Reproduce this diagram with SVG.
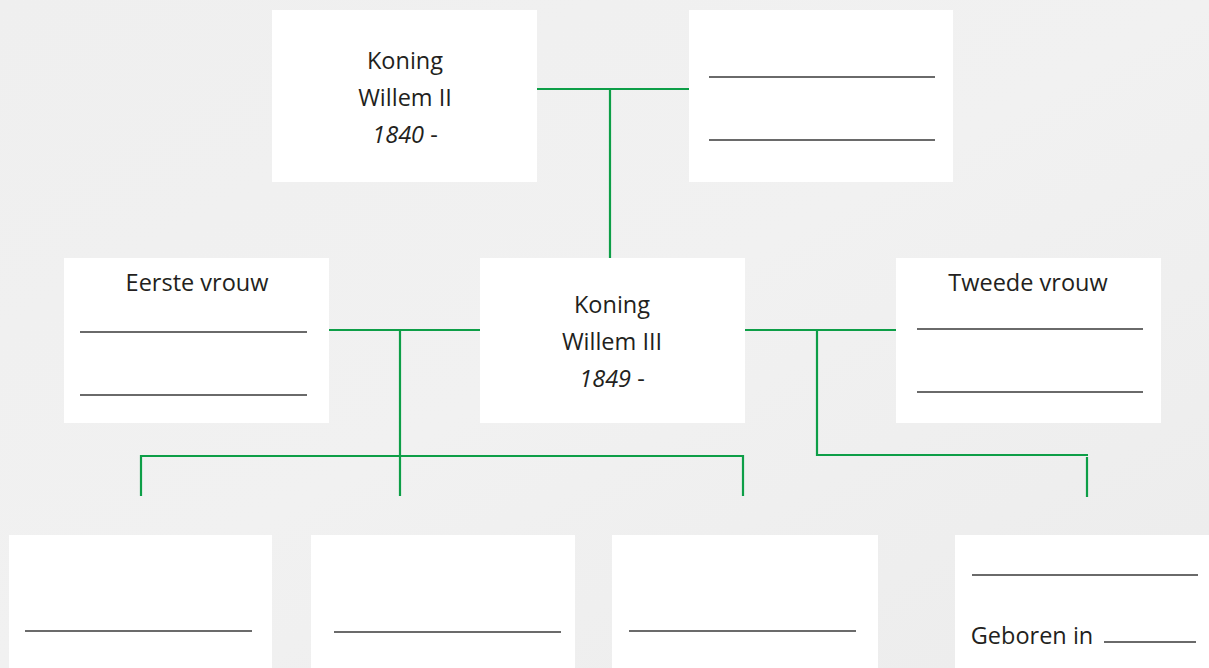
<svg xmlns="http://www.w3.org/2000/svg" width="1209" height="668" viewBox="0 0 1209 668">
<defs>
<style>
.box{fill:#ffffff}
.t{font-family:"Open Sans","Noto Sans","Liberation Sans",sans-serif;font-size:23.5px;fill:#231f20;text-anchor:middle}
.i{font-style:italic}
.ln{stroke:#3a3a3a;stroke-width:1.3;fill:none}
.g{stroke:#0d9e47;stroke-width:2.2;fill:none}
</style>
<linearGradient id="bg" x1="0" y1="0" x2="1" y2="1">
<stop offset="0" stop-color="#efefef"/>
<stop offset="0.5" stop-color="#f1f1f1"/>
<stop offset="1" stop-color="#ececec"/>
</linearGradient>
</defs>
<rect width="1209" height="668" fill="url(#bg)"/>

<g id="connectors">
<path class="g" d="M537 89H689M610 89V258"/>
<path class="g" d="M329 330H480M400 330V496M141 496V456H743V496"/>
<path class="g" d="M745 330H896M817 330V455H1088M1087 457V497"/>
</g>

<g id="willem2">
<rect class="box" x="272" y="10" width="265" height="172"/>
<text class="t" x="405" y="69">Koning</text>
<text class="t" x="405" y="106">Willem II</text>
<text class="t" x="405" y="143"><tspan class="i">1840</tspan> -</text>
</g>

<g id="partner2">
<rect class="box" x="689" y="10" width="264" height="172"/>
<path class="ln" d="M709 77H935M709 140H935"/>
</g>

<g id="eerste">
<rect class="box" x="64" y="258" width="265" height="165"/>
<text class="t" x="197" y="291">Eerste vrouw</text>
<path class="ln" d="M80 332H307M80 395H307"/>
</g>

<g id="willem3">
<rect class="box" x="480" y="258" width="265" height="165"/>
<text class="t" x="612" y="313">Koning</text>
<text class="t" x="612" y="350">Willem III</text>
<text class="t" x="612" y="387"><tspan class="i">1849</tspan> -</text>
</g>

<g id="tweede">
<rect class="box" x="896" y="258" width="265" height="165"/>
<text class="t" x="1028" y="291">Tweede vrouw</text>
<path class="ln" d="M917 329H1143M917 392H1143"/>
</g>

<g id="kind1">
<rect class="box" x="9" y="535" width="263" height="140"/>
<path class="ln" d="M25 631H252"/>
</g>

<g id="kind2">
<rect class="box" x="311" y="535" width="264" height="140"/>
<path class="ln" d="M334 632H561"/>
</g>

<g id="kind3">
<rect class="box" x="612" y="535" width="266" height="140"/>
<path class="ln" d="M629 631H856"/>
</g>

<g id="kind4">
<rect class="box" x="955" y="535" width="260" height="140"/>
<path class="ln" d="M972 575H1198M1104 642H1196"/>
<text class="t" x="1032" y="644">Geboren in</text>
</g>
</svg>
